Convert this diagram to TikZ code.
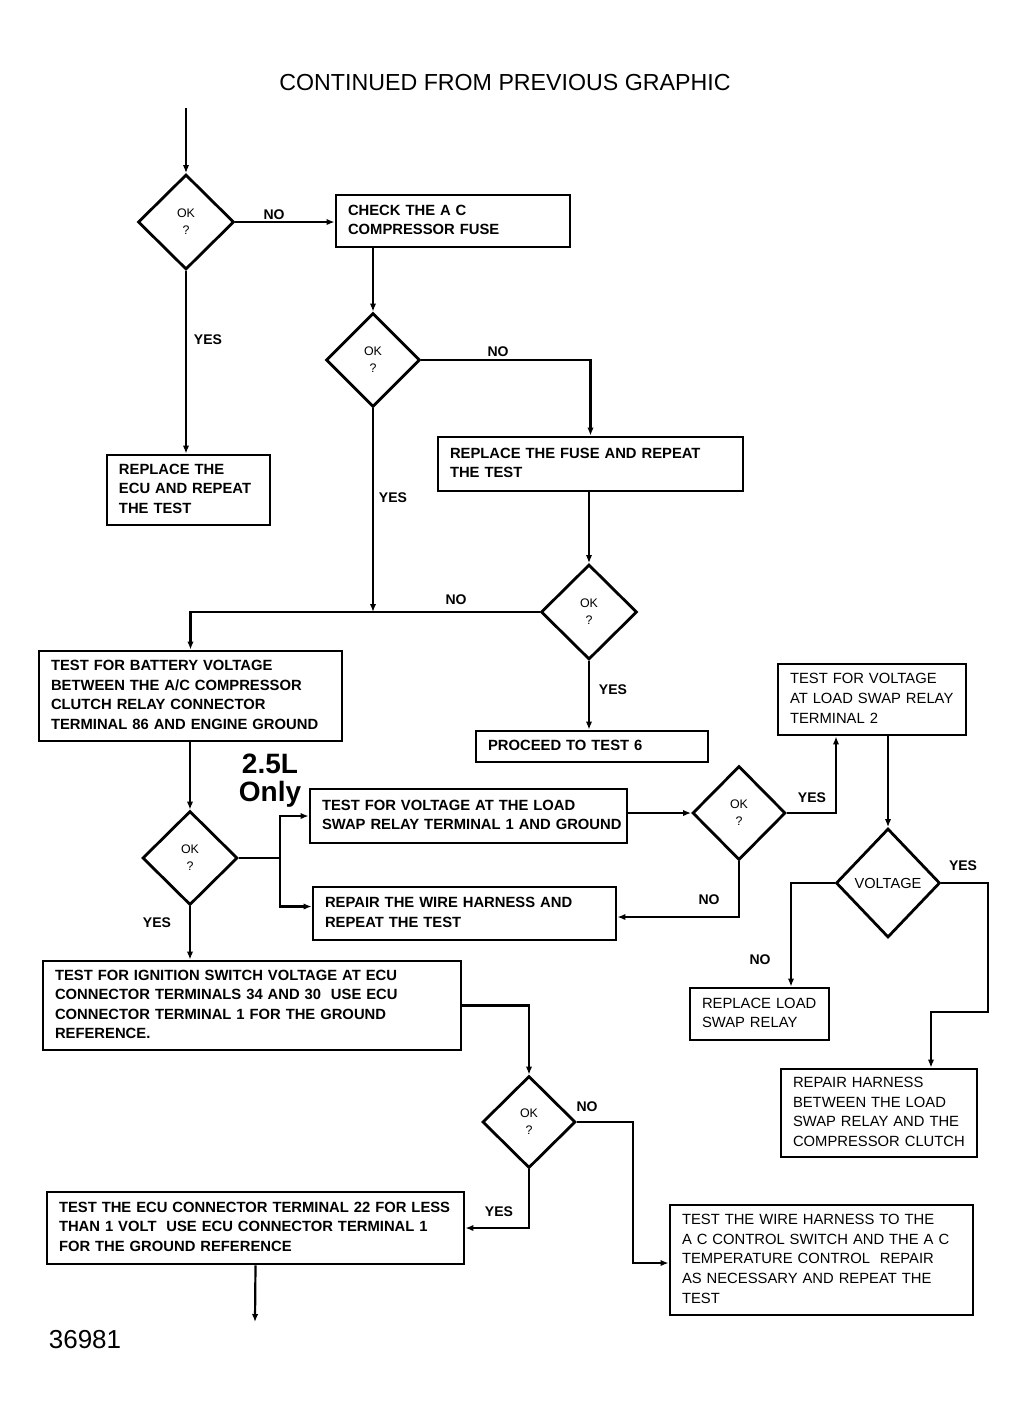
\documentclass[tikz,border=0pt]{standalone}
\usepackage{fontspec}
\setmainfont{Liberation Sans}
\usetikzlibrary{shapes.geometric,arrows.meta,calc}
\newcommand{\bxt}[1]{\begin{tabular}{@{}l@{}}#1\end{tabular}}
\begin{document}
\begin{tikzpicture}[x=0.5pt,y=-0.5pt,
 box/.style={draw, line width=1.4pt, inner xsep=6pt, inner ysep=0pt, align=left, font=\bfseries\fontsize{7.4}{9.8}\selectfont},
 rbox/.style={box, font=\fontsize{7.4}{9.8}\selectfont},
 dia/.style={draw, diamond, aspect=1, line width=1.4pt, inner sep=0pt, align=center, font=\fontsize{6.2}{8.5}\selectfont},
 arr/.style={line width=1.1pt, -{Latex[length=4pt,width=3.2pt]}},
 ln/.style={line width=1.1pt},
 lab/.style={inner sep=0pt, font=\bfseries\fontsize{7}{8}\selectfont},
 every node/.append style={}]
\useasboundingbox (0,0) rectangle (1026,1426);
\fill[white] (0,0) rectangle (1026,1426);

\node[inner sep=0pt, font=\fontsize{11.6}{14}\selectfont] (title) at (505,83) {CONTINUED FROM PREVIOUS GRAPHIC};
\node[inner sep=0pt, font=\fontsize{13}{15}\selectfont] (num) at (85,1340) {36981};
\node[inner sep=0pt, font=\bfseries\fontsize{14}{15}\selectfont] (l25) at (270,764) {2.5L};
\node[inner sep=0pt, font=\bfseries\fontsize{14}{15}\selectfont] (lonly) at (270,794) {Only};

% diamonds
\node[dia, minimum width=48pt, minimum height=47.5pt] (D1) at (186,222) {OK\\?};
\node[dia, minimum width=47pt, minimum height=47pt] (D2) at (373,360) {OK\\?};
\node[dia, minimum width=48pt, minimum height=47.5pt] (D3) at (589,612) {OK\\?};
\node[dia, minimum width=47.5pt, minimum height=47pt] (D4) at (190,858) {OK\\?};
\node[dia, minimum width=46.5pt, minimum height=47pt] (D5) at (739,813) {OK\\?};
\node[dia, minimum width=52pt, minimum height=54.5pt, font=\fontsize{7.3}{8.5}\selectfont] (D6) at (888,883) {VOLTAGE};
\node[dia, minimum width=46.5pt, minimum height=46pt] (D7) at (529,1122) {OK\\?};

% boxes
\node[box, minimum height=26pt, text width=105pt] (B1) at (453,221) {\bxt{CHECK THE A C\\COMPRESSOR FUSE}};
\node[box, minimum height=35pt, text width=69.5pt] (B2) at (188.5,490) {\bxt{REPLACE THE\\ECU AND REPEAT\\THE TEST}};
\node[box, minimum height=27pt, text width=140.5pt] (B3) at (590.5,464) {\bxt{REPLACE THE FUSE AND REPEAT\\THE TEST}};
\node[box, minimum height=45pt, text width=139.5pt] (B4) at (190.5,696) {\bxt{TEST FOR BATTERY VOLTAGE\\BETWEEN THE A/C COMPRESSOR\\CLUTCH RELAY CONNECTOR\\TERMINAL 86 AND ENGINE GROUND}};
\node[box, minimum height=15.5pt, text width=104pt] (B5) at (592,746.5) {\bxt{PROCEED TO TEST 6}};
\node[box, minimum height=27pt, text width=146.5pt] (B6) at (468.5,816) {\bxt{TEST FOR VOLTAGE AT THE LOAD\\SWAP RELAY TERMINAL 1 AND GROUND}};
\node[box, minimum height=26.5pt, text width=139.5pt] (B7) at (464.5,913.5) {\bxt{REPAIR THE WIRE HARNESS AND\\REPEAT THE TEST}};
\node[box, minimum height=44.5pt, text width=197pt] (B8) at (252,1005.5) {\bxt{TEST FOR IGNITION SWITCH VOLTAGE AT ECU\\CONNECTOR TERMINALS 34 AND 30\ \ USE ECU\\CONNECTOR TERMINAL 1 FOR THE GROUND\\REFERENCE.}};
\node[rbox, minimum height=35.5pt, text width=82pt] (B9) at (872,699.5) {\bxt{TEST FOR VOLTAGE\\AT LOAD SWAP RELAY\\TERMINAL 2}};
\node[rbox, minimum height=26pt, text width=57.5pt] (B10) at (759.5,1014) {\bxt{REPLACE LOAD\\SWAP RELAY}};
\node[rbox, minimum height=44pt, text width=86pt] (B11) at (879,1113) {\bxt{REPAIR HARNESS\\BETWEEN THE LOAD\\SWAP RELAY AND THE\\COMPRESSOR CLUTCH}};
\node[box, minimum height=36pt, text width=196.5pt] (B12) at (255.5,1228) {\bxt{TEST THE ECU CONNECTOR TERMINAL 22 FOR LESS\\THAN 1 VOLT\ \ USE ECU CONNECTOR TERMINAL 1\\FOR THE GROUND REFERENCE}};
\node[rbox, minimum height=55pt, text width=139.5pt] (B13) at (821.5,1260) {\bxt{TEST THE WIRE HARNESS TO THE\\A C CONTROL SWITCH AND THE A C\\TEMPERATURE CONTROL\ \ REPAIR\\AS NECESSARY AND REPEAT THE\\TEST}};

% coordinates
\coordinate (top) at (186,108);
\coordinate (bot) at (255,1322);
\coordinate (j1) at (280,858);
\coordinate (k1) at (988,1012);
\coordinate (k2) at (931,1012);
\coordinate (m1) at (633,1122);

% connectors
\draw[arr] (top) -- (D1.north);
\draw[arr] (D1.east) -- (D1.east -| B1.west);
\draw[arr] (D1.south) -- (D1.south |- B2.north);
\draw[arr] (D2.north |- B1.south) -- (D2.north);
\draw[arr] (D2.east) -| (B3.north);
\draw[arr] (D3.north |- B3.south) -- (D3.north);
\draw[arr] (D3.west) -| (B4.north);
\draw[arr] (D2.south) -- (D2.south |- D3.west);
\draw[arr] (D3.south) -- (D3.south |- B5.north);
\draw[arr] (D4.north |- B4.south) -- (D4.north);
\draw[ln] (D4.east) -- (j1);
\draw[arr] (j1) |- (B6.west);
\draw[arr] (j1) |- ([yshift=3.5pt]B7.west);
\draw[arr] (D4.south) -- (D4.south |- B8.north);
\draw[arr] (D5.west -| B6.east) -- (D5.west);
\draw[arr] (D5.east) -| ([xshift=-18pt]B9.south);
\draw[arr] (D5.south) |- ([yshift=-1.75pt]B7.east);
\draw[arr] (D6.north |- B9.south) -- (D6.north);
\draw[arr] (D6.east) -| (k1) -- (k2) -- (k2 |- B11.north);
\draw[arr] (D6.west) -| ([xshift=15.75pt]B10.north);
\draw[arr] (B8.east) -| (D7.north);
\draw[arr] (D7.east) -- (m1) |- ([yshift=-1.5pt]B13.west);
\draw[arr] (D7.south) |- (B12.east);
\draw[arr] (B12.south) -- (bot);

% labels
\node[lab] (n1) at (274,215) {NO};
\node[lab] (y1) at (208,340) {YES};
\node[lab] (n2) at (498,352) {NO};
\node[lab] (y2) at (393,498) {YES};
\node[lab] (n3) at (456,600) {NO};
\node[lab] (y3) at (613,690) {YES};
\node[lab] (y4) at (157,923) {YES};
\node[lab] (y5) at (812,798) {YES};
\node[lab] (n5) at (709,900) {NO};
\node[lab] (y6) at (963,866) {YES};
\node[lab] (n6) at (760,960) {NO};
\node[lab] (n7) at (587,1107) {NO};
\node[lab] (y7) at (499,1212) {YES};
\end{tikzpicture}
\end{document}
